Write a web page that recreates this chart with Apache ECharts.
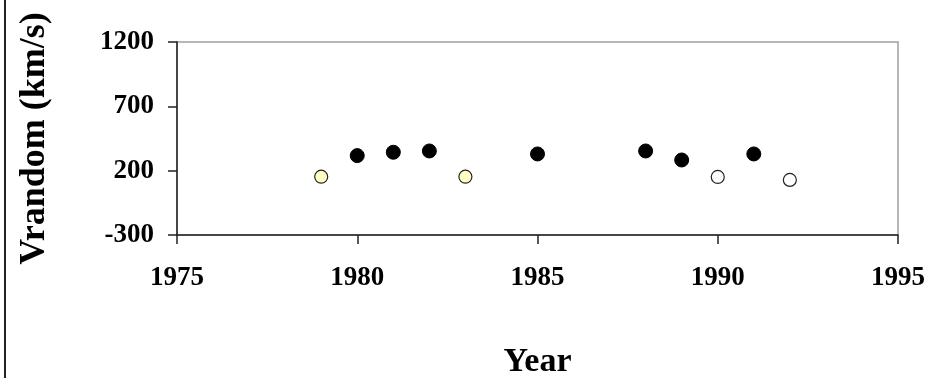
<!DOCTYPE html>
<html>
<head>
<meta charset="utf-8">
<script src="https://cdn.jsdelivr.net/npm/echarts@6/dist/echarts.min.js"></script>
<style>
  html, body { margin: 0; padding: 0; background: #fff; }
  #chart { width: 933px; height: 378px; }
</style>
</head>
<body>
<div id="chart"></div>
<script>
// Observation years and random velocity (km/s), grouped by marker style
const filledYears = [1980, 1981, 1982, 1985, 1988, 1989, 1991];
const filledValues = [317, 343, 353, 330, 353, 283, 330];

const yellowYears = [1979, 1983];
const yellowValues = [153, 153];

const openYears = [1990, 1992];
const openValues = [151, 128];

const xTicks = [1975, 1980, 1985, 1990, 1995];
const yTicks = [-300, 200, 700, 1200];

const pairs = (xs, ys) => xs.map((x, i) => [x, ys[i]]);

const serif = '"Liberation Serif", "Times New Roman", serif';

const chart = echarts.init(document.getElementById('chart'), null, { renderer: 'canvas' });

chart.setOption({
  animation: false,
  backgroundColor: '#ffffff',
  grid: {
    left: 177, right: 35, top: 42, bottom: 143,
    containLabel: false, outerBoundsMode: 'none',
    show: true, borderColor: '#a0a0a0', borderWidth: 1.5, backgroundColor: 'transparent'
  },
  xAxis: {
    type: 'value',
    min: xTicks[0], max: xTicks[xTicks.length - 1], interval: 5,
    name: 'Year', nameLocation: 'middle', nameGap: 110,
    nameTextStyle: { fontFamily: serif, fontWeight: 'bold', fontSize: 34, color: '#000' },
    axisLine: { onZero: false, lineStyle: { color: '#222', width: 1.5 } },
    axisTick: { show: true, length: 9, lineStyle: { color: '#222', width: 1.5 } },
    axisLabel: {
      fontFamily: serif, fontWeight: 'bold', fontSize: 27, color: '#000', margin: 30,
      formatter: v => String(v)
    },
    splitLine: { show: false }
  },
  yAxis: {
    type: 'value',
    min: yTicks[0], max: yTicks[yTicks.length - 1], interval: 500,
    name: 'Vrandom (km/s)', nameLocation: 'middle', nameGap: 124, nameRotate: 90,
    nameTextStyle: { fontFamily: serif, fontWeight: 'bold', fontSize: 36, color: '#000' },
    axisLine: { show: true, onZero: false, lineStyle: { color: '#222', width: 1.5 } },
    axisTick: { show: true, length: 9, lineStyle: { color: '#222', width: 1.5 } },
    axisLabel: {
      fontFamily: serif, fontWeight: 'bold', fontSize: 27, color: '#000', margin: 23,
      formatter: v => String(v)
    },
    splitLine: { show: false }
  },
  graphic: [{
    type: 'line',
    shape: { x1: 5, y1: 0, x2: 5, y2: 378 },
    style: { stroke: '#222', lineWidth: 2 }
  }],
  series: [
    {
      type: 'scatter',
      data: pairs(filledYears, filledValues),
      symbol: 'circle', symbolSize: 14,
      itemStyle: { color: '#000', borderColor: '#000', borderWidth: 1, opacity: 1 }
    },
    {
      type: 'scatter',
      data: pairs(yellowYears, yellowValues),
      symbol: 'circle', symbolSize: 13,
      itemStyle: { color: '#ffffc4', borderColor: '#222', borderWidth: 1.2, opacity: 1 }
    },
    {
      type: 'scatter',
      data: pairs(openYears, openValues),
      symbol: 'circle', symbolSize: 13,
      itemStyle: { color: '#ffffff', borderColor: '#222', borderWidth: 1.2, opacity: 1 }
    }
  ]
});
</script>
</body>
</html>
